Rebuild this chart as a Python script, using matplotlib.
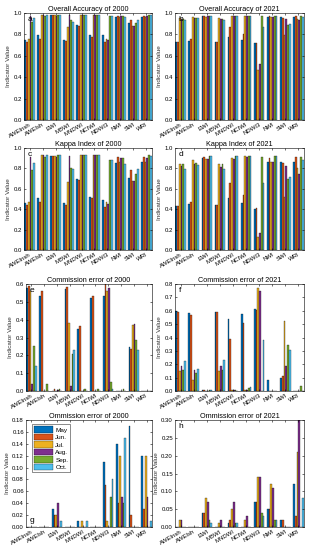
import matplotlib
matplotlib.use("Agg")
import matplotlib.pyplot as plt
import numpy as np

plt.rcParams['font.family'] = ['Liberation Sans', 'DejaVu Sans']

categories = ["AWEInsh", "AWEIsh", "EWI", "MBWI", "MNDWI", "NCIWI", "NDWI3", "NWI", "SWI", "WRI"]
months = ["May", "Jun.", "Jul.", "Aug.", "Sep.", "Oct."]
colors = ["#0072BD", "#D95319", "#EDB120", "#7E2F8E", "#77AC30", "#4DBEEE"]

# rows = categories, columns = months (May..Oct)
oa_2000 = [
    [0.745, 0.73, 0.755, 0.97, 0.92, 0.95],
    [0.79, 0.76, 0.98, 0.98, 0.97, 0.98],
    [0.98, 0.98, 0.98, 0.97, 0.98, 0.98],
    [0.75, 0.74, 0.87, 0.98, 0.93, 0.92],
    [0.89, 0.88, 0.98, 0.98, 0.98, 0.98],
    [0.79, 0.78, 0.98, 0.98, 0.98, 0.98],
    [0.79, 0.73, 0.76, 0.75, 0.97, 0.97],
    [0.96, 0.97, 0.96, 0.97, 0.97, 0.96],
    [0.91, 0.93, 0.88, 0.88, 0.91, 0.93],
    [0.96, 0.97, 0.96, 0.97, 0.98, 0.98],
]
oa_2021 = [
    [0.73, 0.73, 0.95, 0.94, 0.94, 0.93],
    [0.74, 0.76, 0.96, 0.95, 0.95, 0.95],
    [0.97, 0.97, 0.96, 0.97, 0.97, 0.97],
    [0.73, 0.73, 0.95, 0.94, 0.94, 0.93],
    [0.78, 0.87, 0.97, 0.97, 0.97, 0.97],
    [0.75, 0.80, 0.97, 0.97, 0.97, 0.97],
    [0.72, 0.72, 0.47, 0.52, 0.97, 0.87],
    [0.96, 0.97, 0.96, 0.96, 0.97, 0.97],
    [0.96, 0.95, 0.79, 0.94, 0.89, 0.90],
    [0.96, 0.97, 0.94, 0.93, 0.97, 0.96],
]
kappa_2000 = [
    [0.46, 0.44, 0.47, 0.91, 0.78, 0.85],
    [0.51, 0.47, 0.93, 0.93, 0.91, 0.93],
    [0.92, 0.92, 0.92, 0.91, 0.93, 0.93],
    [0.46, 0.44, 0.67, 0.92, 0.80, 0.79],
    [0.70, 0.69, 0.93, 0.93, 0.93, 0.93],
    [0.52, 0.51, 0.93, 0.93, 0.93, 0.93],
    [0.49, 0.42, 0.47, 0.45, 0.88, 0.88],
    [0.85, 0.91, 0.86, 0.90, 0.90, 0.84],
    [0.71, 0.78, 0.68, 0.68, 0.75, 0.79],
    [0.86, 0.91, 0.86, 0.90, 0.93, 0.92],
]
kappa_2021 = [
    [0.43, 0.43, 0.84, 0.82, 0.84, 0.79],
    [0.45, 0.47, 0.88, 0.84, 0.85, 0.83],
    [0.90, 0.91, 0.89, 0.89, 0.92, 0.92],
    [0.44, 0.44, 0.84, 0.81, 0.84, 0.79],
    [0.51, 0.66, 0.90, 0.89, 0.92, 0.92],
    [0.46, 0.54, 0.92, 0.91, 0.92, 0.92],
    [0.40, 0.41, 0.13, 0.17, 0.91, 0.66],
    [0.86, 0.90, 0.86, 0.86, 0.92, 0.92],
    [0.86, 0.85, 0.52, 0.82, 0.70, 0.72],
    [0.86, 0.91, 0.80, 0.75, 0.91, 0.88],
]
comm_2000 = [
    [0.58, 0.59, 0.56, 0.04, 0.255, 0.14],
    [0.53, 0.56, 0.0, 0.0, 0.04, 0.0],
    [0.0, 0.01, 0.0, 0.005, 0.01, 0.0],
    [0.57, 0.585, 0.38, 0.03, 0.21, 0.23],
    [0.35, 0.365, 0.0, 0.0, 0.01, 0.0],
    [0.52, 0.535, 0.0, 0.0, 0.01, 0.0],
    [0.53, 0.60, 0.56, 0.58, 0.05, 0.01],
    [0.0, 0.0, 0.0, 0.0, 0.01, 0.0],
    [0.245, 0.235, 0.37, 0.375, 0.285, 0.23],
    [0.0, 0.0, 0.0, 0.0, 0.0, 0.0],
]
comm_2021 = [
    [0.595, 0.59, 0.15, 0.185, 0.16, 0.225],
    [0.58, 0.565, 0.085, 0.16, 0.135, 0.165],
    [0.01, 0.005, 0.0, 0.0, 0.005, 0.01],
    [0.59, 0.59, 0.15, 0.19, 0.16, 0.23],
    [0.535, 0.39, 0.01, 0.01, 0.01, 0.0],
    [0.575, 0.51, 0.01, 0.01, 0.02, 0.03],
    [0.61, 0.605, 0.77, 0.75, 0.0, 0.38],
    [0.08, 0.0, 0.0, 0.0, 0.0, 0.0],
    [0.10, 0.11, 0.525, 0.19, 0.345, 0.31],
    [0.0, 0.0, 0.0, 0.0, 0.04, 0.0],
]
omm_2000 = [
    [0.0, 0.0, 0.0, 0.0, 0.0, 0.0],
    [0.0, 0.0, 0.0, 0.0, 0.0, 0.0],
    [0.03, 0.02, 0.02, 0.04, 0.0, 0.01],
    [0.0, 0.0, 0.0, 0.0, 0.0, 0.0],
    [0.01, 0.0, 0.01, 0.0, 0.0, 0.01],
    [0.0, 0.0, 0.0, 0.0, 0.0, 0.0],
    [0.11, 0.07, 0.01, 0.0, 0.05, 0.08],
    [0.14, 0.04, 0.12, 0.05, 0.04, 0.15],
    [0.17, 0.02, 0.0, 0.0, 0.0, 0.0],
    [0.12, 0.03, 0.12, 0.05, 0.0, 0.01],
]
omm_2021 = [
    [0.0, 0.0, 0.02, 0.02, 0.0, 0.0],
    [0.0, 0.0, 0.0, 0.0, 0.0, 0.0],
    [0.04, 0.04, 0.08, 0.07, 0.02, 0.01],
    [0.0, 0.0, 0.01, 0.02, 0.0, 0.0],
    [0.01, 0.02, 0.05, 0.07, 0.01, 0.01],
    [0.0, 0.0, 0.02, 0.03, 0.0, 0.0],
    [0.07, 0.07, 0.14, 0.14, 0.04, 0.03],
    [0.05, 0.05, 0.12, 0.11, 0.02, 0.02],
    [0.02, 0.02, 0.0, 0.0, 0.0, 0.0],
    [0.12, 0.03, 0.21, 0.30, 0.0, 0.08],
]

titles = ["Overall Accuracy of 2000", "Overall Accuracy of 2021",
          "Kappa Index of 2000", "Kappa Index of 2021",
          "Commission error of 2000", "Commission error of 2021",
          "Ommission error of 2000", "Ommission error of 2021"]
letters = ["a", "b", "c", "d", "e", "f", "g", "h"]
panels = [oa_2000, oa_2021, kappa_2000, kappa_2021, comm_2000, comm_2021, omm_2000, omm_2021]
ylims = [1.0, 1.0, 1.0, 1.0, 0.6, 0.8, 0.18, 0.3]
ysteps = [0.2, 0.2, 0.2, 0.2, 0.1, 0.1, 0.02, 0.05]

fig = plt.figure(figsize=(3.09, 5.50), dpi=100)

W, H = 309.0, 550.0
col_x = [(24, 152), (175, 304)]
row_y = [(13, 120), (148, 250), (284, 391), (420, 527)]

fs = 4.3
x = np.arange(1, len(categories) + 1)
nser = len(months)
slot = 0.8 / nser

for i, data in enumerate(panels):
    r, c = divmod(i, 2)
    x0, x1 = col_x[c]
    y0, y1 = row_y[r]
    if r >= 2 and c == 0:
        x0 += 2
    ax = fig.add_axes([x0 / W, 1 - y1 / H, (x1 - x0) / W, (y1 - y0) / H])
    arr = np.array(data)
    for j in range(nser):
        ax.bar(x - 0.4 + slot * (j + 0.5), arr[:, j], width=slot, color=colors[j],
               edgecolor="black", linewidth=0.2, label=months[j])
    ax.set_xlim(0.57, 10.43)
    ax.set_ylim(0, ylims[i])
    ax.set_yticks(np.round(np.arange(0, ylims[i] + 1e-9, ysteps[i]), 3))
    ax.set_xticks(x)
    ax.set_xticklabels(categories, rotation=30, ha="right", rotation_mode="anchor", fontsize=fs)
    ax.tick_params(axis="y", labelsize=fs, direction="in", length=1.5, width=0.4, pad=1.5)
    ax.tick_params(axis="x", direction="in", length=1.5, width=0.4, pad=1.5)
    ax.tick_params(top=True, right=True, direction="in", length=1.5, width=0.4)
    for s in ax.spines.values():
        s.set_linewidth(0.4)
    ax.set_title(titles[i], fontsize=5.2, pad=1.5)
    ax.set_ylabel("Indicator Value", fontsize=4.6, labelpad=1.5, color="#333333")
    ax.text(0.03, 0.97, letters[i], transform=ax.transAxes, fontsize=6, va="top", ha="left")
    if i == 6:
        ax.legend(loc="upper left", fontsize=4.6, frameon=True, fancybox=False,
                  edgecolor="black", handlelength=3.0, handleheight=1.2,
                  borderpad=0.3, labelspacing=0.15, handletextpad=0.4,
                  bbox_to_anchor=(0.02, 0.99)).get_frame().set_linewidth(0.4)
        ax.texts[-1].set_position((0.03, 0.03))
        ax.texts[-1].set_va("bottom")

fig.savefig("out.png", dpi=100)
